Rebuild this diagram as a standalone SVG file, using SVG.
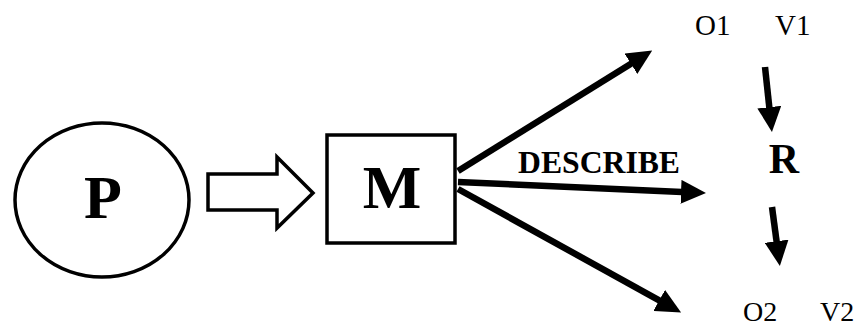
<svg xmlns="http://www.w3.org/2000/svg" width="864" height="328" viewBox="0 0 864 328">
<defs>
<style>
.shape{fill:#fff;stroke:#000;stroke-width:3.5}
.big{font-family:"Liberation Serif","Times New Roman",serif;font-weight:bold;fill:#000;text-anchor:middle}
.lbl{font-family:"Liberation Serif","Times New Roman",serif;fill:#000}
.conn{stroke:#000;stroke-width:6.5;fill:none;marker-end:url(#ah)}
</style>
<marker id="ah" markerUnits="userSpaceOnUse" markerWidth="25" markerHeight="24" viewBox="0 -12 25 24" refX="1" refY="0" orient="auto">
<path d="M0,-12 L25,0 L0,12 z" fill="#000"/>
</marker>
</defs>
<rect width="864" height="328" fill="#fff"/>
<g id="node-P">
<ellipse class="shape" cx="102" cy="200" rx="87" ry="77"/>
<text class="big" x="103" y="218" font-size="62">P</text>
</g>
<g id="node-M">
<rect class="shape" x="327" y="135" width="128" height="108"/>
<text class="big" x="392" y="208" font-size="62">M</text>
</g>
<g id="node-R">
<text class="big" x="784" y="173" font-size="42">R</text>
</g>
<g id="node-O1V1">
<text class="lbl" x="695" y="35" font-size="29">O1</text>
<text class="lbl" x="775" y="35" font-size="29">V1</text>
</g>
<g id="node-O2V2">
<text class="lbl" x="743" y="321" font-size="28">O2</text>
<text class="lbl" x="820" y="321" font-size="28">V2</text>
</g>
<g id="connectors">
<path class="shape" d="M208,174 L277,174 L277,157 L313,193 L277,228 L277,210 L208,210 Z" stroke-linejoin="miter"/>
<line class="conn" x1="458" y1="171" x2="631.8" y2="63.2"/>
<line class="conn" x1="458" y1="182" x2="682" y2="191.9"/>
<line class="conn" x1="458" y1="189" x2="660.1" y2="300.9"/>
<line class="conn" x1="765" y1="67" x2="769.4" y2="108.1"/>
<line class="conn" x1="772" y1="207" x2="776.7" y2="242.2"/>
<text class="lbl" x="518" y="173" font-size="31" font-weight="bold" textLength="162" lengthAdjust="spacingAndGlyphs">DESCRIBE</text>
</g>
</svg>
